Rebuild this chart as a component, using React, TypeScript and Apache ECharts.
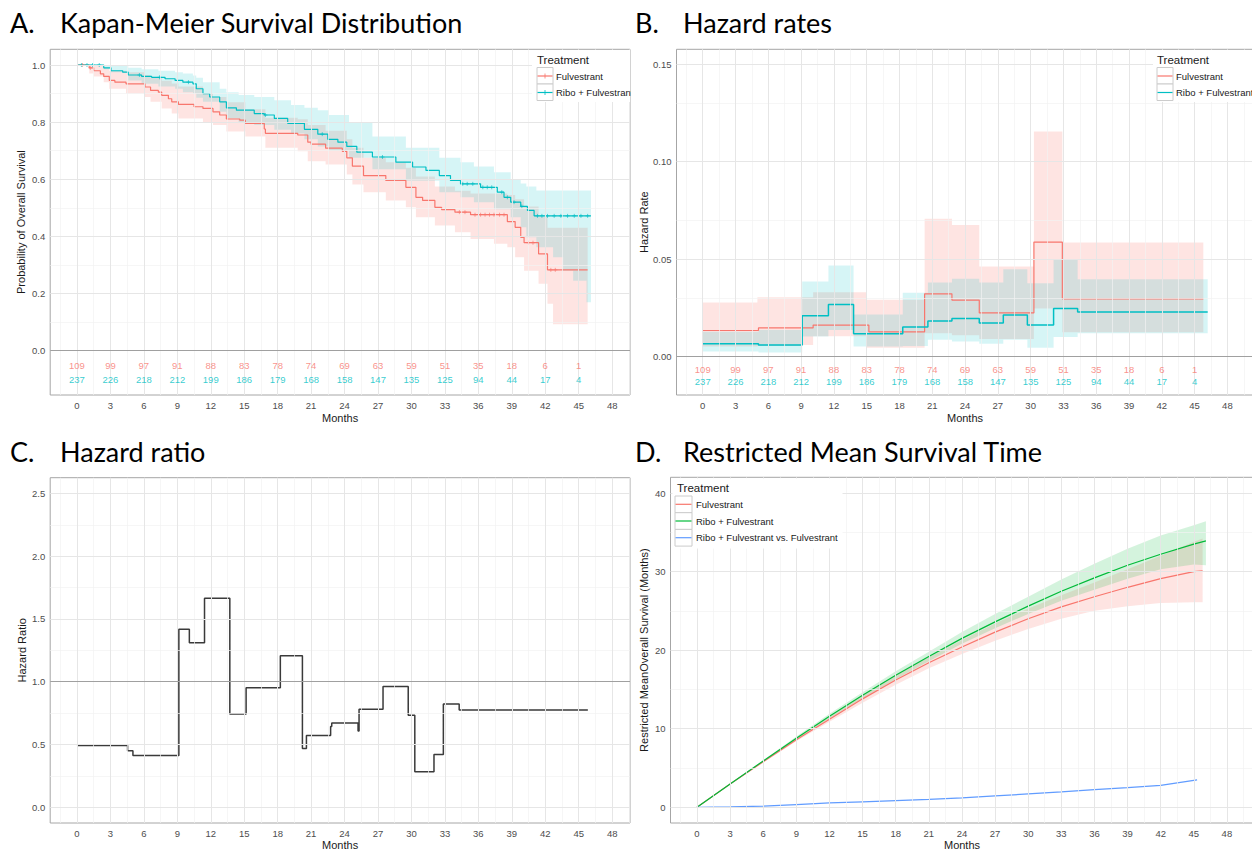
import React, { useEffect, useRef } from 'react';
import * as echarts from 'echarts';

// ---------- Data ----------
const months = [0, 3, 6, 9, 12, 15, 18, 21, 24, 27, 30, 33, 36, 39, 42, 45, 48];
const minorMonths = [-1.5, 1.5, 4.5, 7.5, 10.5, 13.5, 16.5, 19.5, 22.5, 25.5, 28.5, 31.5, 34.5, 37.5, 40.5, 43.5, 46.5, 49.5];
const riskMonths = [0, 3, 6, 9, 12, 15, 18, 21, 24, 27, 30, 33, 36, 39, 42, 45];
const riskFulv = [109, 99, 97, 91, 88, 83, 78, 74, 69, 63, 59, 51, 35, 18, 6, 1];
const riskRibo = [237, 226, 218, 212, 199, 186, 179, 168, 158, 147, 135, 125, 94, 44, 17, 4];

// A. Kaplan-Meier
const kmFulvT = [0, 1.1, 1.5, 2.1, 2.4, 2.9, 3.4, 4.4, 6.1, 6.6, 7.3, 7.6, 8.2, 8.5, 9.1, 10.5, 11.3, 12.2, 12.8, 13.4, 14.6, 15.1, 16.8, 16.9, 19.8, 20.7, 21.0, 22.3, 23.8, 24.2, 24.7, 25.7, 27.7, 29.5, 30.4, 31.0, 32.1, 32.7, 33.9, 35.3, 38.6, 39.3, 39.8, 40.1, 41.4, 42.2, 45.8];
const kmFulvS = [1.0, 0.99, 0.98, 0.969, 0.96, 0.946, 0.94, 0.934, 0.923, 0.911, 0.905, 0.894, 0.882, 0.871, 0.862, 0.854, 0.848, 0.836, 0.825, 0.811, 0.807, 0.796, 0.776, 0.761, 0.755, 0.73, 0.723, 0.709, 0.698, 0.675, 0.646, 0.613, 0.596, 0.572, 0.537, 0.526, 0.502, 0.494, 0.485, 0.476, 0.452, 0.432, 0.397, 0.378, 0.339, 0.283, 0.283];
const kmFulvBandT = [0, 1.1, 1.5, 2.4, 2.9, 4.4, 6.1, 6.6, 7.6, 8.5, 9.1, 11.3, 12.2, 13.4, 15.1, 16.9, 19.8, 20.7, 22.3, 24.2, 24.7, 25.7, 27.7, 29.5, 30.4, 32.1, 33.9, 35.3, 37.4, 38.6, 39.3, 40.1, 41.4, 42.2, 42.7, 45.8];
const kmFulvLo = [1.0, 0.97, 0.96, 0.94, 0.917, 0.9, 0.888, 0.871, 0.848, 0.83, 0.813, 0.8, 0.79, 0.767, 0.75, 0.71, 0.698, 0.663, 0.652, 0.617, 0.582, 0.555, 0.526, 0.502, 0.467, 0.438, 0.415, 0.391, 0.374, 0.362, 0.327, 0.28, 0.234, 0.164, 0.093, 0.093];
const kmFulvHi = [1.0, 1.0, 0.998, 0.99, 0.98, 0.975, 0.965, 0.955, 0.945, 0.935, 0.925, 0.9, 0.888, 0.87, 0.845, 0.815, 0.81, 0.79, 0.77, 0.74, 0.71, 0.675, 0.66, 0.64, 0.61, 0.575, 0.56, 0.55, 0.55, 0.545, 0.53, 0.505, 0.47, 0.43, 0.43, 0.43];
const kmRiboT = [0, 2.4, 3.05, 4.1, 4.6, 5.8, 6.7, 7.9, 8.8, 9.5, 10.4, 10.7, 11.3, 11.9, 12.8, 13.4, 14.3, 15.9, 16.8, 17.7, 18.9, 20.4, 21.6, 22.5, 23.4, 24.2, 25.1, 26.5, 28.6, 30.1, 31.3, 32.5, 33.5, 34.4, 36.2, 37.7, 38.3, 38.9, 39.8, 40.4, 41.0, 46.1];
const kmRiboS = [1.0, 0.99, 0.98, 0.975, 0.965, 0.96, 0.957, 0.952, 0.946, 0.94, 0.934, 0.917, 0.9, 0.888, 0.871, 0.85, 0.842, 0.83, 0.825, 0.813, 0.796, 0.775, 0.758, 0.74, 0.73, 0.715, 0.695, 0.678, 0.66, 0.643, 0.631, 0.613, 0.596, 0.584, 0.572, 0.555, 0.537, 0.52, 0.505, 0.491, 0.472, 0.472];
const kmRiboBandT = [0, 2.4, 3.05, 4.6, 5.8, 7.3, 8.8, 9.5, 10.4, 10.7, 11.3, 12.8, 13.4, 14.5, 15.9, 17.7, 19.2, 20.4, 21.6, 22.6, 24.4, 26.5, 29.5, 32.5, 34.4, 35.6, 37.4, 38.9, 39.8, 40.3, 41.2, 42.7, 43.6, 44.5, 45.7, 46.1];
const kmRiboLo = [1.0, 0.985, 0.975, 0.946, 0.934, 0.925, 0.917, 0.905, 0.9, 0.885, 0.871, 0.836, 0.813, 0.8, 0.79, 0.773, 0.76, 0.74, 0.715, 0.7, 0.675, 0.635, 0.595, 0.555, 0.537, 0.52, 0.495, 0.467, 0.432, 0.397, 0.362, 0.327, 0.28, 0.245, 0.17, 0.17];
const kmRiboHi = [1.0, 1.0, 0.998, 0.99, 0.985, 0.98, 0.975, 0.97, 0.963, 0.955, 0.94, 0.917, 0.905, 0.895, 0.888, 0.877, 0.86, 0.85, 0.842, 0.825, 0.8, 0.75, 0.71, 0.675, 0.66, 0.645, 0.625, 0.6, 0.585, 0.575, 0.561, 0.561, 0.561, 0.561, 0.561, 0.561];
const censorFulvT = [0.5, 1.2, 34.3, 34.8, 35.7, 36.2, 36.6, 37.0, 37.4, 37.9, 38.3, 40.5, 40.9, 42.5, 42.9];
const censorFulvS = [1.0, 0.99, 0.485, 0.485, 0.476, 0.476, 0.476, 0.476, 0.476, 0.476, 0.476, 0.378, 0.378, 0.283, 0.283];
const censorRiboT = [0.4, 0.9, 1.4, 2.0, 5.6, 7.4, 10.0, 16.9, 22.0, 27.4, 34.6, 35.0, 35.5, 36.4, 36.8, 37.2, 38.1, 38.6, 39.2, 39.9, 41.3, 41.7, 42.2, 42.8, 43.4, 44.0, 44.6, 45.2, 45.8];
const censorRiboS = [1, 1, 1, 1, 0.965, 0.957, 0.94, 0.825, 0.758, 0.678, 0.584, 0.584, 0.584, 0.572, 0.572, 0.572, 0.555, 0.537, 0.52, 0.505, 0.472, 0.472, 0.472, 0.472, 0.472, 0.472, 0.472, 0.472, 0.472];

// B. Hazard rates
const hazFulvT = [0, 5.1, 10.1, 15.2, 20.3, 22.8, 25.3, 30.3, 32.9, 45.8];
const hazFulv = [0.0134, 0.0147, 0.0162, 0.0127, 0.0322, 0.029, 0.0224, 0.0588, 0.0296, 0.0296];
const hazFulvBandT = [0, 5.0, 9.0, 10.1, 15.0, 20.3, 22.8, 25.3, 30.3, 32.9, 45.8];
const hazFulvLo = [0.0052, 0.0055, 0.006, 0.0105, 0.0045, 0.012, 0.011, 0.009, 0.0247, 0.0125, 0.0125];
const hazFulvHi = [0.0278, 0.0304, 0.0304, 0.033, 0.0292, 0.0707, 0.0676, 0.0462, 0.1155, 0.0585, 0.0585];
const hazRiboT = [0, 5.1, 9.1, 11.5, 13.8, 18.3, 20.6, 22.8, 25.3, 27.5, 29.7, 32.1, 34.3, 46.2];
const hazRibo = [0.0066, 0.0059, 0.021, 0.0267, 0.0117, 0.0152, 0.0183, 0.0195, 0.0172, 0.0214, 0.0162, 0.0247, 0.0229, 0.0229];
const hazRiboLo = [0.0026, 0.0021, 0.0103, 0.0137, 0.0052, 0.0055, 0.0086, 0.0078, 0.0066, 0.0086, 0.0046, 0.01, 0.012, 0.012];
const hazRiboHi = [0.0128, 0.0137, 0.0385, 0.0467, 0.0216, 0.0328, 0.038, 0.04, 0.038, 0.0448, 0.0376, 0.05, 0.0397, 0.0397];

// C. Hazard ratio
const hrT = [0, 4.54, 5.02, 9.14, 10.08, 11.44, 13.71, 15.17, 18.24, 20.22, 20.58, 22.75, 22.85, 25.21, 25.3, 27.45, 29.71, 30.3, 32.02, 32.86, 34.28, 45.82];
const hrV = [0.492, 0.45, 0.413, 1.418, 1.31, 1.664, 0.743, 0.952, 1.206, 0.468, 0.571, 0.643, 0.672, 0.608, 0.78, 0.963, 0.733, 0.283, 0.421, 0.823, 0.775, 0.775];

// D. Restricted mean survival time
const rmstFulvT = [0, 3, 6, 9, 12, 15, 18, 21, 24, 27, 30, 33, 36, 39, 42, 45, 45.8];
const rmstFulv = [0, 2.95, 5.8, 8.6, 11.2, 13.8, 16.2, 18.4, 20.4, 22.3, 24.0, 25.5, 26.8, 28.0, 29.1, 30.0, 30.1];
const rmstFulvLo = [0, 2.9, 5.7, 8.4, 10.9, 13.3, 15.6, 17.7, 19.5, 21.2, 22.7, 24.0, 25.0, 25.6, 26.0, 26.1, 26.1];
const rmstFulvHi = [0, 3.0, 5.9, 8.8, 11.5, 14.3, 16.8, 19.1, 21.3, 23.4, 25.3, 27.0, 28.6, 30.3, 32.0, 33.8, 34.2];
const rmstRiboT = [0, 3, 6, 9, 12, 15, 18, 21, 24, 27, 30, 33, 36, 39, 42, 45, 46.1];
const rmstRibo = [0, 2.95, 5.9, 8.8, 11.6, 14.25, 16.8, 19.2, 21.5, 23.6, 25.6, 27.5, 29.2, 30.8, 32.2, 33.5, 33.9];
const rmstRiboLo = [0, 2.93, 5.8, 8.6, 11.3, 13.85, 16.3, 18.6, 20.8, 22.8, 24.6, 26.3, 27.7, 29.1, 30.3, 30.9, 30.8];
const rmstRiboHi = [0, 2.97, 6.0, 9.0, 11.9, 14.65, 17.3, 19.8, 22.3, 24.6, 26.8, 29.0, 31.0, 32.9, 34.6, 35.9, 36.4];
const rmstDiffT = [0, 3, 6, 9, 12, 15, 18, 21, 24, 27, 30, 33, 36, 39, 42, 45.3];
const rmstDiff = [0, 0.05, 0.15, 0.35, 0.55, 0.7, 0.85, 1.0, 1.2, 1.45, 1.7, 1.95, 2.25, 2.5, 2.8, 3.5];

// axis tick values
const yTicksA = [0, 0.2, 0.4, 0.6, 0.8, 1.0];
const yMinorA = [0.1, 0.3, 0.5, 0.7, 0.9];
const yTicksB = [0, 0.05, 0.1, 0.15];
const yMinorB = [0.025, 0.075, 0.125];
const yTicksC = [0, 0.5, 1.0, 1.5, 2.0, 2.5];
const yMinorC = [0.25, 0.75, 1.25, 1.75, 2.25];
const yTicksD = [0, 10, 20, 30, 40];
const yMinorD = [5, 15, 25, 35];

// ---------- Styles ----------
const RED = '#F8766D';
const CYAN = '#00BFC4';
const GREEN = '#00BA38';
const BLUE = '#619CFF';
const FONT = "'Liberation Sans', Arial, sans-serif";
const TFONT = "Lato, 'Open Sans', sans-serif";

const pairs = (T: number[], V: number[]) => T.map((t, i) => [t, V[i]]);

function stepBandPts(api: any, T: number[], lo: number[], hi: number[]) {
  const up: number[][] = [];
  const dn: number[][] = [];
  for (let i = 0; i < T.length; i++) {
    const t1 = i < T.length - 1 ? T[i + 1] : T[i];
    up.push(api.coord([T[i], hi[i]]), api.coord([t1, hi[i]]));
    dn.push(api.coord([T[i], lo[i]]), api.coord([t1, lo[i]]));
  }
  return up.concat(dn.reverse());
}
function linBandPts(api: any, T: number[], lo: number[], hi: number[]) {
  const up = T.map((t, i) => api.coord([t, hi[i]]));
  const dn = T.map((t, i) => api.coord([t, lo[i]]));
  return up.concat(dn.reverse());
}

function band(gi: number, T: number[], lo: number[], hi: number[], fill: string, step: boolean) {
  return {
    type: 'custom', xAxisIndex: gi, yAxisIndex: gi, coordinateSystem: 'cartesian2d', silent: true, z: 2,
    data: [[0, 0]],
    renderItem: (_p: any, api: any) => ({
      type: 'polygon',
      shape: { points: step ? stepBandPts(api, T, lo, hi) : linBandPts(api, T, lo, hi) },
      style: { fill },
    }),
  };
}

function stepLine(gi: number, T: number[], V: number[], color: string, width = 1.2) {
  return {
    type: 'line', xAxisIndex: gi, yAxisIndex: gi, step: 'end', showSymbol: false, symbol: 'none', silent: true, z: 3,
    lineStyle: { color, width }, data: pairs(T, V),
  };
}
function plainLine(gi: number, T: number[], V: number[], color: string) {
  return {
    type: 'line', xAxisIndex: gi, yAxisIndex: gi, smooth: false, showSymbol: false, symbol: 'none', silent: true, z: 3,
    lineStyle: { color, width: 1.2 }, data: pairs(T, V),
  };
}
function censor(gi: number, T: number[], V: number[], color: string) {
  return {
    type: 'scatter', xAxisIndex: gi, yAxisIndex: gi, silent: true, z: 4,
    symbol: 'path://M5,0L5,10M0,5L10,5', symbolSize: 4,
    itemStyle: { color: 'rgba(0,0,0,0)', borderColor: color, borderWidth: 0.8 },
    data: pairs(T, V),
  };
}
function riskRow(gi: number, y: number, counts: number[], color: string) {
  return {
    type: 'scatter', xAxisIndex: gi, yAxisIndex: gi, silent: true, z: 5, symbolSize: 1,
    itemStyle: { color: 'rgba(0,0,0,0)' },
    label: { show: true, position: 'inside', formatter: (p: any) => String(p.value[2]), color, fontSize: 9.5, fontFamily: FONT },
    data: riskMonths.map((m, i) => [m, y, counts[i]]),
  };
}

const MAJ = { color: '#e6e6e6', width: 1, type: 'solid' };
const MIN = { color: '#f2f2f2', width: 0.7, type: 'solid' };
function gridLines(gi: number, yMin: number, hMaj: number[], hMin: number[], extra: any[]) {
  const data = [
    ...minorMonths.map((v) => ({ xAxis: v, lineStyle: MIN })),
    ...hMin.map((v) => ({ yAxis: v, lineStyle: MIN })),
    ...months.map((v) => ({ xAxis: v, lineStyle: MAJ })),
    ...hMaj.map((v) => ({ yAxis: v, lineStyle: MAJ })),
    ...extra,
  ];
  return {
    type: 'line', xAxisIndex: gi, yAxisIndex: gi, silent: true, z: 1, symbol: 'none', showSymbol: false,
    lineStyle: { opacity: 0 }, data: [[0, yMin]],
    markLine: { silent: true, symbol: ['none', 'none'], label: { show: false }, animation: false, data },
  };
}

function xAxis(gi: number, max: number, nameGap: number) {
  return {
    type: 'value', gridIndex: gi, min: -2.4, max,
    axisLine: { show: false }, splitLine: { show: false },
    axisTick: { show: true, customValues: months, length: 4, lineStyle: { color: '#666', width: 1 } },
    axisLabel: { show: true, customValues: months, margin: 5, color: '#4d4d4d', fontSize: 9.5, fontFamily: FONT },
    name: 'Months', nameLocation: 'middle', nameGap,
    nameTextStyle: { color: '#1a1a1a', fontSize: 11, fontFamily: FONT },
  };
}
function yAxis(gi: number, min: number, max: number, ticks: number[], dec: number, name: string, nameGap: number) {
  return {
    type: 'value', gridIndex: gi, min, max,
    axisLine: { show: false }, splitLine: { show: false },
    axisTick: { show: true, customValues: ticks, length: 3, lineStyle: { color: '#666', width: 1 } },
    axisLabel: { show: true, customValues: ticks, margin: 5, color: '#4d4d4d', fontSize: 9.5, fontFamily: FONT, formatter: (v: number) => v.toFixed(dec) },
    name, nameLocation: 'middle', nameGap, nameRotate: 90,
    nameTextStyle: { color: '#1a1a1a', fontSize: 11, fontFamily: FONT },
  };
}

function txt(x: number, y: number, text: string, size: number, fill: string, family = FONT) {
  return {
    type: 'text', x, y, z: 102, silent: true,
    style: { text, fill, fontSize: size, fontFamily: family, align: 'left', textAlign: 'left', verticalAlign: 'middle', textVerticalAlign: 'middle' },
  };
}
function rect(x: number, y: number, w: number, h: number, fill: string, stroke?: string, z = 100) {
  return { type: 'rect', z, silent: true, shape: { x, y, width: w, height: h }, style: { fill, stroke: stroke || 'none', lineWidth: 1 } };
}
function seg(x1: number, y1: number, x2: number, y2: number, stroke: string, w = 1.2) {
  return { type: 'line', z: 101, silent: true, shape: { x1, y1, x2, y2 }, style: { stroke, lineWidth: w } };
}

function buildOption() {
  const gridBase = { show: true, backgroundColor: '#fff', borderColor: '#a6a6a6', borderWidth: 1, containLabel: false, outerBoundsMode: 'none' };
  const grids = [
    { ...gridBase, left: 50.2, top: 49.3, width: 579.8, height: 345.7 },
    { ...gridBase, left: 676.5, top: 49.3, width: 577, height: 345.7 },
    { ...gridBase, left: 50.2, top: 477.7, width: 579.8, height: 345.3 },
    { ...gridBase, left: 670.5, top: 477.3, width: 583, height: 345.7 },
  ];
  const darkLine = (v: number) => ({ yAxis: v, lineStyle: { color: '#a0a0a0', width: 1.2, type: 'solid' } });

  const series: any[] = [
    // A
    gridLines(0, -0.155, yTicksA.filter((v) => v !== 0), yMinorA, [darkLine(0)]),
    band(0, kmFulvBandT, kmFulvLo, kmFulvHi, 'rgba(248,118,109,0.2)', true),
    band(0, kmRiboBandT, kmRiboLo, kmRiboHi, 'rgba(0,191,196,0.16)', true),
    stepLine(0, kmFulvT, kmFulvS, RED),
    stepLine(0, kmRiboT, kmRiboS, CYAN),
    censor(0, censorFulvT, censorFulvS, RED),
    censor(0, censorRiboT, censorRiboS, CYAN),
    riskRow(0, -0.05, riskFulv, RED),
    riskRow(0, -0.1, riskRibo, CYAN),
    // B
    gridLines(1, -0.0197, yTicksB.filter((v) => v !== 0), yMinorB, [darkLine(0)]),
    band(1, hazFulvBandT, hazFulvLo, hazFulvHi, 'rgba(248,118,109,0.2)', true),
    band(1, hazRiboT, hazRiboLo, hazRiboHi, 'rgba(0,191,196,0.16)', true),
    stepLine(1, hazFulvT, hazFulv, RED),
    stepLine(1, hazRiboT, hazRibo, CYAN, 1.5),
    riskRow(1, -0.0065, riskFulv, RED),
    riskRow(1, -0.0128, riskRibo, CYAN),
    // C
    gridLines(2, -0.125, yTicksC.filter((v) => v !== 1.0), yMinorC, [darkLine(1.0)]),
    stepLine(2, hrT, hrV, '#3a3a3a', 1.5),
    // D
    gridLines(3, -2, yTicksD, yMinorD, []),
    band(3, rmstFulvT, rmstFulvLo, rmstFulvHi, 'rgba(248,118,109,0.2)', false),
    band(3, rmstRiboT, rmstRiboLo, rmstRiboHi, 'rgba(0,186,56,0.17)', false),
    plainLine(3, rmstFulvT, rmstFulv, RED),
    plainLine(3, rmstRiboT, rmstRibo, GREEN),
    plainLine(3, rmstDiffT, rmstDiff, BLUE),
  ];

  const graphic: any[] = [
    // titles
    txt(10, 22.5, 'A.', 27, '#000', TFONT),
    txt(60, 22.5, 'Kapan-Meier Survival Distribution', 27, '#000', TFONT),
    txt(635, 22.5, 'B.', 27, '#000', TFONT),
    txt(683, 22.5, 'Hazard rates', 27, '#000', TFONT),
    txt(10, 451.5, 'C.', 27, '#000', TFONT),
    txt(60, 451.5, 'Hazard ratio', 27, '#000', TFONT),
    txt(635, 451.5, 'D.', 27, '#000', TFONT),
    txt(683, 451.5, 'Restricted Mean Survival Time', 27, '#000', TFONT),
    // legend A
    rect(532, 50, 98, 52, '#fff'),
    txt(537, 60, 'Treatment', 11.5, '#1a1a1a'),
    rect(537, 67.5, 16, 16.5, '#fff', '#cccccc', 101),
    rect(537, 84, 16, 16.5, '#fff', '#cccccc', 101),
    seg(537.5, 76, 552.5, 76, RED),
    seg(545, 73.5, 545, 78.5, RED, 0.8),
    seg(537.5, 92.5, 552.5, 92.5, CYAN),
    seg(545, 90, 545, 95, CYAN, 0.8),
    txt(556, 76, 'Fulvestrant', 9.5, '#1a1a1a'),
    txt(556, 92.5, 'Ribo + Fulvestrant', 9.5, '#1a1a1a'),
    rect(631, 52, 12, 50, '#fff', undefined, 103),
    // legend B
    rect(1153, 50, 99, 52, '#fff'),
    txt(1157, 60, 'Treatment', 11.5, '#1a1a1a'),
    rect(1157, 67.5, 16, 16.5, '#fff', '#cccccc', 101),
    rect(1157, 84, 16, 16.5, '#fff', '#cccccc', 101),
    seg(1157.5, 76, 1172.5, 76, RED),
    seg(1157.5, 92.5, 1172.5, 92.5, CYAN),
    txt(1176, 76, 'Fulvestrant', 9.5, '#1a1a1a'),
    txt(1176, 92.5, 'Ribo + Fulvestrant', 9.5, '#1a1a1a'),
    // legend D
    rect(672.5, 478.5, 170, 70, '#fff'),
    txt(677, 487.5, 'Treatment', 11.5, '#1a1a1a'),
    rect(675, 496, 17, 16.7, '#fff', '#cccccc', 101),
    rect(675, 512.7, 17, 16.7, '#fff', '#cccccc', 101),
    rect(675, 529.4, 17, 16.7, '#fff', '#cccccc', 101),
    seg(675.5, 504.3, 691.5, 504.3, RED),
    seg(675.5, 521, 691.5, 521, GREEN),
    seg(675.5, 537.7, 691.5, 537.7, BLUE),
    txt(696, 504.3, 'Fulvestrant', 9.5, '#1a1a1a'),
    txt(696, 521, 'Ribo + Fulvestrant', 9.5, '#1a1a1a'),
    txt(696, 537.7, 'Ribo + Fulvestrant vs. Fulvestrant', 9.5, '#1a1a1a'),
  ];

  return {
    animation: false,
    backgroundColor: '#fff',
    grid: grids,
    // x scales: A/C 11.15 px per month, B 10.93, D 11.04
    xAxis: [xAxis(0, 49.6, 17.5), xAxis(1, 50.39, 17.5), xAxis(2, 49.6, 16.5), xAxis(3, 50.41, 16.5)],
    yAxis: [
      yAxis(0, -0.155, 1.055, yTicksA, 1, 'Probability of Overall Survival', 24),
      yAxis(1, -0.0197, 0.1577, yTicksB, 2, 'Hazard Rate', 26),
      yAxis(2, -0.125, 2.625, yTicksC, 1, 'Hazard Ratio', 23),
      yAxis(3, -2, 42, yTicksD, 0, 'Restricted MeanOverall Survival (Months)', 21),
    ],
    series,
    graphic: { elements: graphic },
  };
}

export default function App() {
  const ref = useRef<HTMLDivElement>(null);
  useEffect(() => {
    if (!ref.current) return;
    const chart = echarts.init(ref.current, null, { renderer: 'svg' });
    chart.setOption(buildOption() as any);
    return () => chart.dispose();
  }, []);
  return (
    <div
      ref={ref}
      style={{ position: 'fixed', left: 0, top: 0, width: 1252, height: 852, background: '#fff' }}
    />
  );
}
